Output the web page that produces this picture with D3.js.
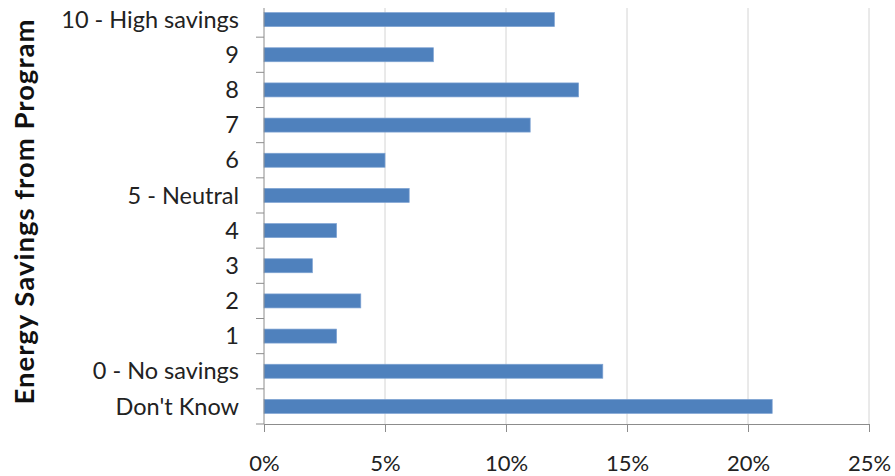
<!DOCTYPE html>
<html><head><meta charset="utf-8">
<script src="https://cdn.jsdelivr.net/npm/d3@7"></script>
<style>body{margin:0;background:#fff}svg{display:block}</style>
</head><body>
<svg id="c" width="895" height="476"></svg>
<script>
const categories = ["10 - High savings","9","8","7","6","5 - Neutral","4","3","2","1","0 - No savings","Don't Know"];
const values = [12,7,13,11,5,6,3,2,4,3,14,21];
const xTicks = [0,5,10,15,20,25];
const yTitle = "Energy Savings from Program";

(function(){
const svg = d3.select("#c");
const font = "Lato, 'Open Sans', sans-serif";
const x = d3.scaleLinear().domain([0,25]).range([264,869]);
const y = d3.scaleBand().domain(categories).range([2,424]).paddingInner(0.6).paddingOuter(0.3);
const step = y.step();
const plotTop = 8, plotBottom = 424;

// gridlines
svg.append("g").selectAll("line").data(xTicks.slice(1)).join("line")
  .attr("x1",d=>x(d)).attr("x2",d=>x(d)).attr("y1",plotTop).attr("y2",plotBottom)
  .attr("stroke","#d4d4d4").attr("stroke-width",1);

// bars
svg.append("g").selectAll("rect").data(categories).join("rect")
  .attr("x",x(0)).attr("y",d=>y(d)+y.bandwidth()/2-7)
  .attr("width",(d,i)=>x(values[i])-x(0)).attr("height",14)
  .attr("fill","#4f81bd").attr("stroke","#7ea3d3").attr("stroke-width",0.7);

// x axis
const xa = svg.append("g").attr("transform",`translate(0,${plotBottom})`)
  .call(d3.axisBottom(x).tickValues(xTicks).tickFormat(d=>d+"%").tickSize(8).tickSizeOuter(0));
xa.select(".domain").attr("stroke","#8c8c8c");
xa.selectAll(".tick line").attr("stroke","#8c8c8c");
xa.selectAll("text").attr("font-family",font).attr("font-size",22).attr("fill","#222").attr("dy","0").attr("y",47);

// y axis
const ya = svg.append("g").attr("transform",`translate(${x(0)},0)`);
ya.append("line").attr("x1",0).attr("x2",0).attr("y1",plotTop).attr("y2",plotBottom).attr("stroke","#8c8c8c");
const bounds = categories.map(c=>y(c)-(step-y.bandwidth())/2).slice(1).concat([plotBottom]);
ya.selectAll("line.t").data(bounds).join("line").attr("class","t")
  .attr("x1",-8).attr("x2",0).attr("y1",d=>d).attr("y2",d=>d).attr("stroke","#8c8c8c");
ya.selectAll("text").data(categories).join("text")
  .attr("x",-25).attr("y",d=>y(d)+y.bandwidth()/2).attr("dy","0.35em")
  .attr("text-anchor","end").attr("font-family",font).attr("font-size",23.5).attr("fill","#222")
  .text(d=>d);

// title
svg.append("text").attr("transform","translate(34,212) rotate(-90)")
  .attr("text-anchor","middle").attr("font-family",font).attr("font-weight","bold")
  .attr("font-size",27.5).attr("fill","#111")
  .attr("textLength",385).attr("lengthAdjust","spacing").text(yTitle);
})();
</script>
</body></html>
